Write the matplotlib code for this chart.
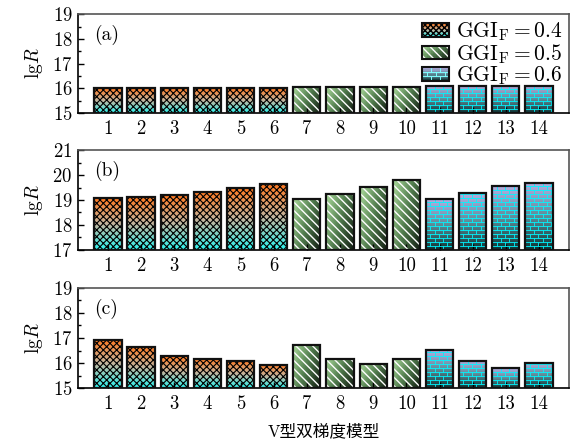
import numpy as np
import matplotlib
matplotlib.use("Agg")
import matplotlib.pyplot as plt
from matplotlib.colors import LinearSegmentedColormap
from matplotlib.collections import LineCollection
from matplotlib.patches import Rectangle
from matplotlib.legend_handler import HandlerBase
from matplotlib.ticker import MultipleLocator

plt.rcParams['font.family'] = 'serif'
plt.rcParams['font.serif'] = ['cmr10']
plt.rcParams['mathtext.fontset'] = 'cm'
plt.rcParams['axes.formatter.use_mathtext'] = True

models = list(range(1, 15))
groups = [0]*6 + [1]*4 + [2]*4
lgR_a = [16.01, 16.01, 16.01, 16.01, 16.01, 16.01, 16.05, 16.05, 16.05, 16.05, 16.10, 16.10, 16.10, 16.10]
lgR_b = [19.07, 19.11, 19.20, 19.33, 19.47, 19.64, 19.03, 19.24, 19.51, 19.79, 19.04, 19.27, 19.56, 19.69]
lgR_c = [16.93, 16.64, 16.27, 16.17, 16.08, 15.94, 16.74, 16.17, 15.97, 16.16, 16.51, 16.08, 15.79, 16.00]
panels = ['(a)', '(b)', '(c)']
ylims = [(15, 19), (17, 21), (15, 19)]
legend_labels = [r'$\mathrm{GGI}_\mathrm{F} = 0.4$', r'$\mathrm{GGI}_\mathrm{F} = 0.5$', r'$\mathrm{GGI}_\mathrm{F} = 0.6$']

cm1 = LinearSegmentedColormap.from_list('g1', ['#30f2ee', '#c4b6a0', '#ff7a22'])
cm2 = LinearSegmentedColormap.from_list('g2', ['#a9d99a', '#4f7a4c', '#121c12'])
cm3 = LinearSegmentedColormap.from_list('g3', ['#0e3434', '#5e8c98', '#b4ace0'])


def grad_color(g, u, v):
    if g == 0:
        return cm1(v)
    if g == 1:
        return cm2(np.clip(0.65*u + 0.35*(1-v), 0, 1))
    return cm3(v)


def brick_segments(x0, y0, w, h, rowh, brickw):
    segs = []
    y = y0
    k = 0
    while y < y0 + h - 1e-9:
        top = min(y + rowh, y0 + h)
        segs.append([(x0, y), (x0 + w, y)])
        off = 0 if k % 2 == 0 else brickw/2
        x = x0 + off
        while x < x0 + w:
            if x > x0:
                segs.append([(x, y), (x, top)])
            x += brickw
        y += rowh
        k += 1
    return segs


def draw_bar(ax, x, val, base, g, width=0.82):
    x0 = x - width/2
    h = val - base
    nx, ny = 20, 40
    u = np.linspace(0, 1, nx)
    v = np.linspace(0, 1, ny)
    U, V = np.meshgrid(u, v)
    img = np.array([[grad_color(g, U[i, j], V[i, j]) for j in range(nx)] for i in range(ny)])
    ax.imshow(img, extent=[x0, x0 + width, base, val], origin='lower',
              aspect='auto', interpolation='bilinear', zorder=1)
    if g == 0:
        p = ax.bar(x, h, width, bottom=base, fill=False, hatch='xxxxx',
                   edgecolor='black', linewidth=0, zorder=2)[0]
        if hasattr(p, 'set_hatch_linewidth'):
            p.set_hatch_linewidth(0.8)
    elif g == 1:
        p = ax.bar(x, h, width, bottom=base, fill=False, hatch='\\\\\\\\',
                   edgecolor='white', linewidth=0, zorder=2)[0]
        if hasattr(p, 'set_hatch_linewidth'):
            p.set_hatch_linewidth(1.0)
    else:
        segs = brick_segments(x0, base, width, h, 0.16, 0.26)
        lc = LineCollection(segs, colors='#00f6ff', linewidths=0.6, zorder=2)
        ax.add_collection(lc)
    ax.bar(x, h, width, bottom=base, fill=False, edgecolor='#111111',
           linewidth=1.6, zorder=3)


class GradHandler(HandlerBase):
    def __init__(self, g):
        super().__init__()
        self.g = g

    def create_artists(self, legend, orig_handle, xdescent, ydescent,
                       width, height, fontsize, trans):
        arts = []
        x0, y0 = -xdescent, -ydescent
        nx, ny = 12, 8
        for i in range(nx):
            for j in range(ny):
                c = grad_color(self.g, (i + 0.5)/nx, (j + 0.5)/ny)
                r = Rectangle((x0 + i*width/nx, y0 + j*height/ny), width/nx + 0.3,
                              height/ny + 0.3, facecolor=c, edgecolor='none', transform=trans)
                arts.append(r)
        if self.g == 0:
            r = Rectangle((x0, y0), width, height, fill=False, hatch='xxxxxx',
                          edgecolor='black', linewidth=0, transform=trans)
            arts.append(r)
        elif self.g == 1:
            r = Rectangle((x0, y0), width, height, fill=False, hatch='\\\\\\\\',
                          edgecolor='white', linewidth=0, transform=trans)
            arts.append(r)
        else:
            segs = brick_segments(x0, y0, width, height, height/3.0, width/3.0)
            arts.append(LineCollection(segs, colors='#7fffff', linewidths=0.7, transform=trans))
        arts.append(Rectangle((x0, y0), width, height, fill=False,
                              edgecolor='#111111', linewidth=1.5, transform=trans))
        return arts


fig = plt.figure(figsize=(5.74, 4.43), dpi=100)
boxes = [[0.136, 0.745, 0.855, 0.223],
         [0.136, 0.436, 0.855, 0.225],
         [0.136, 0.124, 0.855, 0.226]]
data = [lgR_a, lgR_b, lgR_c]

axes = []
for k in range(3):
    ax = fig.add_axes(boxes[k])
    base = ylims[k][0]
    for x, val, g in zip(models, data[k], groups):
        draw_bar(ax, x, val, base, g)
    ax.set_xlim(0.1, 14.9)
    ax.set_ylim(*ylims[k])
    ax.set_xticks(models)
    ax.set_xticklabels([str(m) for m in models])
    ax.yaxis.set_major_locator(MultipleLocator(1))
    ax.yaxis.set_minor_locator(MultipleLocator(0.5))
    ax.tick_params(axis='both', which='both', direction='in', labelsize=13.5,
                   top=False, right=False, width=1.0)
    ax.tick_params(axis='both', which='major', length=4.5)
    ax.tick_params(axis='y', which='minor', length=2.5)
    ax.tick_params(axis='x', pad=5)
    ax.tick_params(axis='y', pad=4)
    for s in ['left', 'bottom']:
        ax.spines[s].set_linewidth(1.2)
        ax.spines[s].set_color('black')
    for s in ['top', 'right']:
        ax.spines[s].set_linewidth(1.2)
        ax.spines[s].set_color('#555555')
    ax.set_ylabel(r'$\mathrm{lg}R$', fontsize=14, labelpad=5)
    ax.text(0.033, 0.79, panels[k], transform=ax.transAxes, fontsize=14,
            va='center', ha='left')
    axes.append(ax)

handles = [Rectangle((0, 0), 1, 1) for _ in range(3)]
h1, h2, h3 = handles
axes[0].legend(handles, legend_labels, loc='upper right', frameon=False,
               fontsize=15.5, handlelength=1.25, handleheight=0.6,
               handletextpad=0.3, labelspacing=-0.05, borderaxespad=0.15,
               borderpad=0.15,
               handler_map={h1: GradHandler(0), h2: GradHandler(1), h3: GradHandler(2)})

axes[2].set_xlabel('V型双梯度模型', fontsize=12, family=['cmr10', 'Noto Sans CJK SC'],
                   labelpad=8)

fig.savefig('out.png', dpi=100)
